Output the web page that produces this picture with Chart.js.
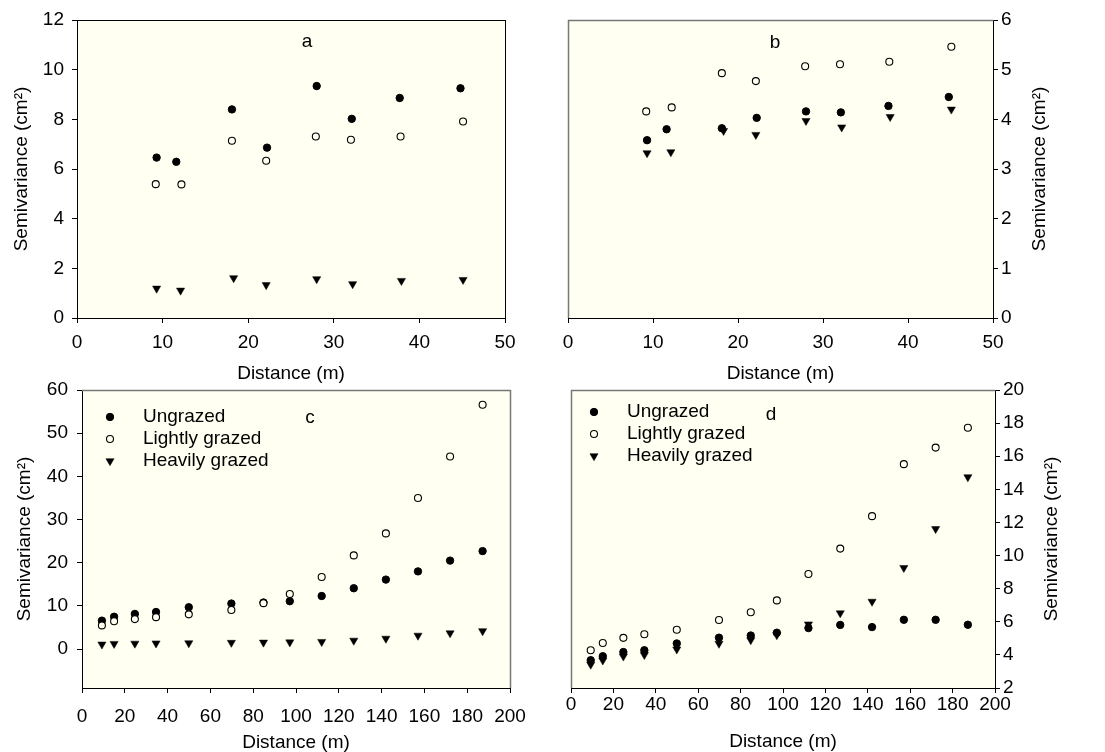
<!DOCTYPE html>
<html>
<head>
<meta charset="utf-8">
<script src="https://cdn.jsdelivr.net/npm/chart.js@4.4.1/dist/chart.umd.min.js"></script>
<style>
html,body{margin:0;padding:0;background:#fff;}
#wrap{position:relative;width:1105px;height:752px;overflow:hidden;background:#fff;}
#wrap canvas{position:absolute;left:0;top:0;width:1105px;height:752px;}
</style>
</head>
<body>
<div id="wrap">
<canvas id="ca" width="1105" height="752"></canvas>
<canvas id="cb" width="1105" height="752"></canvas>
<canvas id="cc" width="1105" height="752"></canvas>
<canvas id="cd" width="1105" height="752"></canvas>
</div>
<script>
// ---------------- data ----------------
const seriesLabels = ['Ungrazed', 'Lightly grazed', 'Heavily grazed'];
const xTitle = 'Distance (m)';
const yTitle = 'Semivariance (cm\u00B2)';

// panels a and b (lag distances, m)
const distAB_ungrazed = [9.3, 11.6, 18.1, 22.2, 28.0, 32.1, 37.7, 44.8];
const distAB_light    = [9.2, 12.2, 18.1, 22.1, 27.9, 32.0, 37.8, 45.1];
const distAB_heavy    = [9.3, 12.1, 18.3, 22.1, 28.0, 32.2, 37.9, 45.1];

const semA_ungrazed = [6.46, 6.29, 8.40, 6.86, 9.34, 8.02, 8.86, 9.25];
const semA_light    = [5.39, 5.38, 7.14, 6.33, 7.31, 7.18, 7.31, 7.91];
const semA_heavy    = [1.19, 1.11, 1.61, 1.33, 1.57, 1.37, 1.50, 1.54];

const semB_ungrazed = [3.58, 3.80, 3.82, 4.03, 4.16, 4.14, 4.27, 4.45];
const semB_light    = [4.16, 4.24, 4.93, 4.77, 5.07, 5.11, 5.16, 5.46];
const semB_heavy    = [3.32, 3.34, 3.77, 3.69, 3.97, 3.84, 4.05, 4.20];

// panels c and d
const distCD = [9.3, 15, 24.7, 34.6, 49.9, 69.8, 84.8, 97.1, 112, 127, 142, 157, 172, 187.2];

const semC_ungrazed = [6.6, 7.5, 8.15, 8.6, 9.7, 10.55, 10.8, 11.1, 12.3, 14.1, 16.1, 18.0, 20.5, 22.7];
const semC_light    = [5.5, 6.45, 6.95, 7.4, 8.05, 9.05, 10.65, 12.75, 16.7, 21.7, 26.8, 35.0, 44.6, 56.6];
const semC_heavy    = [1.1, 1.25, 1.3, 1.35, 1.4, 1.5, 1.55, 1.6, 1.7, 2.0, 2.45, 3.15, 3.7, 4.2];

const semD_ungrazed = [3.68, 3.92, 4.17, 4.28, 4.69, 5.04, 5.17, 5.34, 5.62, 5.81, 5.68, 6.12, 6.12, 5.82];
const semD_light    = [4.28, 4.72, 5.03, 5.25, 5.52, 6.11, 6.58, 7.29, 8.89, 10.42, 12.38, 15.52, 16.52, 17.72];
const semD_heavy    = [3.42, 3.67, 3.91, 4.00, 4.34, 4.68, 4.90, 5.20, 5.85, 6.52, 7.22, 9.26, 11.61, 14.74];

// tick labels
const xTicksAB = [0, 10, 20, 30, 40, 50];
const xTicksCD = [0, 20, 40, 60, 80, 100, 120, 140, 160, 180, 200];
const yTicksA = [0, 2, 4, 6, 8, 10, 12];
const yTicksB = [0, 1, 2, 3, 4, 5, 6];
const yTicksC = [0, 10, 20, 30, 40, 50, 60];
const yTicksD = [2, 4, 6, 8, 10, 12, 14, 16, 18, 20];
const panelLetters = ['a', 'b', 'c', 'd'];

// ---------------- styling ----------------
const FONT = "'Liberation Sans', Arial, Helvetica, sans-serif";
const PLOT_BG = '#FFFFF2';
Chart.defaults.font.family = FONT;
Chart.defaults.color = '#000';

function pts(xs, ys) { return xs.map((x, i) => ({ x: x, y: ys[i] })); }

function makeDatasets(xs, ys) {
  return [
    { label: seriesLabels[0], data: pts(xs[0], ys[0]), order: 1,
      pointStyle: 'circle', pointRadius: 3.7, pointHoverRadius: 3.7,
      backgroundColor: '#000', borderColor: '#000', borderWidth: 1, showLine: false },
    { label: seriesLabels[1], data: pts(xs[1], ys[1]), order: 0,
      pointStyle: 'circle', pointRadius: 3.5, pointHoverRadius: 3.5,
      backgroundColor: PLOT_BG, borderColor: '#000', borderWidth: 1.1, showLine: false },
    { label: seriesLabels[2], data: pts(xs[2], ys[2]), order: 2,
      pointStyle: 'triangle', rotation: 180, pointRotation: 180, pointRadius: 4.7, pointHoverRadius: 4.7,
      backgroundColor: '#000', borderColor: '#000', borderWidth: 0.5, showLine: false }
  ];
}

const decor = {
  id: 'decor',
  beforeDraw(chart) {
    const { ctx, chartArea: a } = chart;
    ctx.save();
    ctx.fillStyle = PLOT_BG;
    ctx.fillRect(a.left, a.top, a.right - a.left, a.bottom - a.top);
    ctx.restore();
  },
  afterDraw(chart, args, o) {
    const { ctx, chartArea: a } = chart;
    ctx.save();
    // frame (top + side without axis)
    ctx.strokeStyle = o.frameColor;
    ctx.lineWidth = o.frameWidth;
    ctx.beginPath();
    ctx.moveTo(a.left, Math.round(a.top) + 0.5);
    ctx.lineTo(a.right + 0.5, Math.round(a.top) + 0.5);
    const sx = o.yRight ? Math.round(a.left) + 0.5 : Math.round(a.right) + 0.5;
    ctx.moveTo(sx, a.top);
    ctx.lineTo(sx, a.bottom);
    ctx.stroke();
    // panel letter
    ctx.fillStyle = '#000';
    ctx.font = o.letterSize + 'px ' + FONT;
    ctx.textAlign = 'center';
    ctx.textBaseline = 'middle';
    ctx.fillText(o.letter, o.letterX, o.letterY);
    // legend
    if (o.legend) {
      const L = o.legend;
      chart.data.datasets.forEach((ds, i) => {
        const y = L.y0 + i * L.dy;
        ctx.save();
        ctx.fillStyle = ds.backgroundColor;
        ctx.strokeStyle = ds.borderColor;
        ctx.lineWidth = ds.borderWidth;
        const opt = { pointStyle: ds.pointStyle, rotation: ds.rotation || 0,
                      radius: ds.pointRadius, borderWidth: ds.borderWidth };
        if (Chart.helpers && Chart.helpers.drawPoint) {
          Chart.helpers.drawPoint(ctx, opt, L.markerX, y);
        }
        ctx.restore();
        ctx.fillStyle = '#000';
        ctx.font = L.size + 'px ' + FONT;
        ctx.textAlign = 'left';
        ctx.textBaseline = 'middle';
        ctx.fillText(ds.label, L.textX, y);
      });
    }
    // right-hand y title (reads bottom-to-top)
    if (o.rightTitle) {
      ctx.fillStyle = '#000';
      ctx.font = o.titleSize + 'px ' + FONT;
      ctx.textAlign = 'center';
      ctx.textBaseline = 'middle';
      ctx.translate(o.rightTitle.x, (a.top + a.bottom) / 2);
      ctx.rotate(-Math.PI / 2);
      ctx.fillText(yTitle, 0, 0);
    }
    ctx.restore();
  }
};

function makePanel(id, p) {
  const W = 1105, H = 752;
  const yRight = p.yPos === 'right';
  const yW = yRight ? W - p.area.r : p.area.l;
  const xH = p.xH;
  const padding = {
    left: yRight ? p.area.l : 0,
    right: yRight ? 0 : W - p.area.r,
    top: p.area.t,
    bottom: H - p.area.b - xH
  };
  const tickFont = { size: 19, family: FONT };
  const titleFont = { size: 19, family: FONT, lineHeight: 1 };
  new Chart(document.getElementById(id), {
    type: 'scatter',
    data: { datasets: makeDatasets(p.xs, p.ys) },
    options: {
      responsive: false,
      animation: false,
      events: [],
      layout: { padding: padding },
      plugins: {
        legend: { display: false },
        tooltip: { enabled: false },
        decor: {
          yRight: yRight, frameColor: p.frameColor, frameWidth: p.frameWidth,
          letter: p.letter, letterX: p.letterX, letterY: p.letterY, letterSize: 19,
          legend: p.legend || null, titleSize: 19,
          rightTitle: yRight ? { x: p.rightTitleX } : null
        }
      },
      scales: {
        x: {
          type: 'linear', position: 'bottom', min: p.xMin, max: p.xMax,
          afterBuildTicks: s => { s.ticks = p.xTicks.map(v => ({ value: v })); },
          afterFit: s => { s.height = xH; },
          grid: { drawOnChartArea: false, drawTicks: true, tickLength: 5, color: '#000', tickWidth: 1 },
          border: { display: true, color: '#000', width: 1 },
          ticks: { font: tickFont, color: '#000', padding: p.xTickPad, maxRotation: 0, autoSkip: false },
          title: { display: true, text: xTitle, font: titleFont, color: '#000',
                   padding: { top: 0, bottom: p.area.b + xH - p.xTitleY - 9.5 } }
        },
        y: {
          type: 'linear', position: p.yPos, min: p.yMin, max: p.yMax,
          afterBuildTicks: s => { s.ticks = p.yTicks.map(v => ({ value: v })); },
          afterFit: s => { s.width = yW; },
          grid: { drawOnChartArea: false, drawTicks: true, tickLength: 5, color: '#000', tickWidth: 1 },
          border: { display: true, color: '#000', width: 1 },
          ticks: { font: tickFont, color: '#000', padding: p.yTickPad, autoSkip: false },
          title: { display: !yRight, text: yTitle, font: titleFont, color: '#000',
                   padding: { top: yRight ? 0 : p.yTitleX - 9.5, bottom: 0 } }
        }
      }
    },
    plugins: [decor]
  });
}

makePanel('ca', {
  area: { l: 77, t: 20, r: 505, b: 318 }, yPos: 'left', xH: 70,
  xs: [distAB_ungrazed, distAB_light, distAB_heavy], ys: [semA_ungrazed, semA_light, semA_heavy],
  xMin: 0, xMax: 50, xTicks: xTicksAB, yMin: 0, yMax: 12, yTicks: yTicksA,
  xTickPad: 8, yTickPad: 8, xTitleY: 374, yTitleX: 22,
  frameColor: '#000', frameWidth: 1,
  letter: panelLetters[0], letterX: 307, letterY: 42
});
makePanel('cb', {
  area: { l: 568, t: 20, r: 993, b: 318 }, yPos: 'right', xH: 70,
  xs: [distAB_ungrazed, distAB_light, distAB_heavy], ys: [semB_ungrazed, semB_light, semB_heavy],
  xMin: 0, xMax: 50, xTicks: xTicksAB, yMin: 0, yMax: 6, yTicks: yTicksB,
  xTickPad: 8, yTickPad: 3, xTitleY: 374, rightTitleX: 1040,
  frameColor: '#777', frameWidth: 1.5,
  letter: panelLetters[1], letterX: 775, letterY: 43
});
makePanel('cc', {
  area: { l: 82, t: 390, r: 510, b: 688 }, yPos: 'left', xH: 64,
  xs: [distCD, distCD, distCD], ys: [semC_ungrazed, semC_light, semC_heavy],
  xMin: 0, xMax: 200, xTicks: xTicksCD, yMin: -9, yMax: 60, yTicks: yTicksC,
  xTickPad: 12, yTickPad: 9, xTitleY: 743, yTitleX: 25,
  frameColor: '#777', frameWidth: 1.5,
  letter: panelLetters[2], letterX: 310, letterY: 418,
  legend: { markerX: 110, textX: 143, y0: 417, dy: 22, size: 19 }
});
makePanel('cd', {
  area: { l: 571, t: 390, r: 995, b: 688 }, yPos: 'right', xH: 64,
  xs: [distCD, distCD, distCD], ys: [semD_ungrazed, semD_light, semD_heavy],
  xMin: 0, xMax: 200, xTicks: xTicksCD, yMin: 2, yMax: 20, yTicks: yTicksD,
  xTickPad: 0, yTickPad: 3, xTitleY: 742, rightTitleX: 1052,
  frameColor: '#777', frameWidth: 1.5,
  letter: panelLetters[3], letterX: 771, letterY: 415,
  legend: { markerX: 594, textX: 627, y0: 412, dy: 22, size: 19 }
});
</script>
</body>
</html>
